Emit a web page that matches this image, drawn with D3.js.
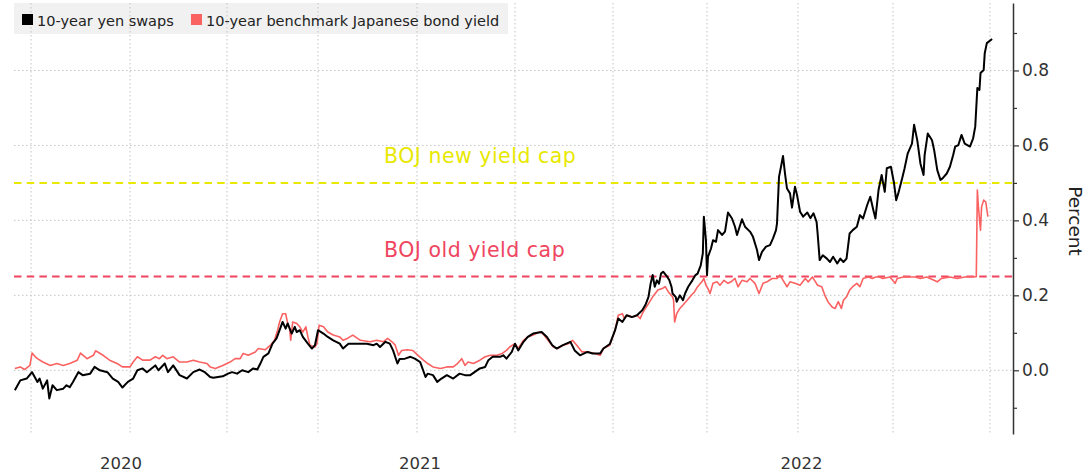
<!DOCTYPE html>
<html>
<head>
<meta charset="utf-8">
<script src="https://cdn.jsdelivr.net/npm/d3@7"></script>
<style>
  body { margin: 0; background: #fff; }
  svg { display: block; font-family: 'DejaVu Sans', Verdana, sans-serif; }
</style>
</head>
<body>
<svg id="chart" width="1086" height="476"></svg>
<script>
const seriesNames = ['10-year yen swaps', '10-year benchmark Japanese bond yield']

const swapDates = [
  '2020-06-16','2020-06-21','2020-06-27','2020-07-02','2020-07-07','2020-07-09','2020-07-12','2020-07-16','2020-07-18','2020-07-21',
  '2020-07-25','2020-07-31','2020-08-03','2020-08-06','2020-08-09','2020-08-14','2020-08-18','2020-08-25','2020-08-29','2020-09-03',
  '2020-09-10','2020-09-15','2020-09-20','2020-09-24','2020-09-29','2020-10-04','2020-10-08','2020-10-13','2020-10-17','2020-10-25',
  '2020-10-28','2020-11-03','2020-11-06','2020-11-11','2020-11-17','2020-11-24','2020-11-30','2020-12-06','2020-12-11','2020-12-16',
  '2020-12-19','2020-12-28','2021-01-02','2021-01-06','2021-01-11','2021-01-16','2021-01-22','2021-01-27','2021-01-31','2021-02-03',
  '2021-02-06','2021-02-11','2021-02-15','2021-02-19','2021-02-25','2021-02-28','2021-03-02','2021-03-06','2021-03-09','2021-03-11',
  '2021-03-14','2021-03-17','2021-03-22','2021-03-26','2021-03-29','2021-04-01','2021-04-06','2021-04-10','2021-04-15','2021-04-21',
  '2021-04-24','2021-04-29','2021-05-07','2021-05-16','2021-05-22','2021-05-25','2021-05-28','2021-06-02','2021-06-06','2021-06-09',
  '2021-06-13','2021-06-15','2021-06-20','2021-06-25','2021-06-29','2021-07-04','2021-07-09','2021-07-11','2021-07-16','2021-07-20',
  '2021-07-24','2021-07-29','2021-08-04','2021-08-10','2021-08-15','2021-08-20','2021-08-24','2021-08-29','2021-09-03','2021-09-06',
  '2021-09-10','2021-09-17','2021-09-20','2021-09-23','2021-09-28','2021-10-01','2021-10-04','2021-10-09','2021-10-13','2021-10-18',
  '2021-10-26','2021-10-31','2021-11-05','2021-11-09','2021-11-15','2021-11-22','2021-11-26','2021-12-01','2021-12-08','2021-12-13',
  '2021-12-20','2021-12-23','2021-12-29','2022-01-03','2022-01-06','2022-01-10','2022-01-14','2022-01-19','2022-01-24','2022-01-29',
  '2022-02-01','2022-02-04','2022-02-06','2022-02-08','2022-02-10','2022-02-12','2022-02-14','2022-02-16','2022-02-18','2022-02-22',
  '2022-02-24','2022-02-26','2022-02-27','2022-03-02','2022-03-03','2022-03-06','2022-03-09','2022-03-11','2022-03-14','2022-03-18',
  '2022-03-21','2022-03-23','2022-03-26','2022-03-28','2022-03-29','2022-03-31','2022-04-01','2022-04-02','2022-04-05','2022-04-07',
  '2022-04-10','2022-04-12','2022-04-16','2022-04-19','2022-04-22','2022-04-26','2022-04-29','2022-05-01','2022-05-06','2022-05-09',
  '2022-05-14','2022-05-17','2022-05-21','2022-05-23','2022-05-26','2022-05-30','2022-06-03','2022-06-06','2022-06-09','2022-06-10',
  '2022-06-12','2022-06-14','2022-06-16','2022-06-18','2022-06-20','2022-06-23','2022-06-25','2022-06-28','2022-06-30','2022-07-03',
  '2022-07-06','2022-07-10','2022-07-13','2022-07-16','2022-07-19','2022-07-20','2022-07-22','2022-07-25','2022-07-29','2022-08-01',
  '2022-08-04','2022-08-08','2022-08-11','2022-08-14','2022-08-17','2022-08-20','2022-08-23','2022-08-27','2022-08-30','2022-09-02',
  '2022-09-06','2022-09-09','2022-09-12','2022-09-14','2022-09-17','2022-09-20','2022-09-23','2022-09-25','2022-09-29','2022-10-02',
  '2022-10-04','2022-10-06','2022-10-10','2022-10-12','2022-10-15','2022-10-19','2022-10-21','2022-10-24','2022-10-27','2022-10-30',
  '2022-10-31','2022-11-03','2022-11-07','2022-11-09','2022-11-12','2022-11-15','2022-11-17','2022-11-21','2022-11-24','2022-11-27',
  '2022-11-29','2022-12-02','2022-12-05','2022-12-08','2022-12-13','2022-12-16','2022-12-18','2022-12-20','2022-12-22','2022-12-23',
  '2022-12-26','2022-12-27','2022-12-29','2023-01-03'
]
const swapValues = [
  -0.053,-0.027,-0.022,-0.005,-0.031,-0.022,-0.049,-0.027,-0.075,-0.040,
  -0.053,-0.049,-0.040,-0.045,-0.031,-0.005,-0.013,-0.009,0.009,0.000,
  -0.005,-0.022,-0.031,-0.046,-0.031,-0.022,0.000,0.005,-0.005,0.013,
  0.000,0.018,-0.005,0.013,-0.013,-0.022,-0.005,0.002,-0.005,-0.018,
  -0.020,-0.016,-0.009,-0.005,-0.009,0.000,-0.005,0.005,0.002,0.018,
  0.036,0.045,0.071,0.085,0.129,0.111,0.125,0.098,0.116,0.102,
  0.107,0.089,0.071,0.058,0.067,0.107,0.098,0.089,0.080,0.071,
  0.058,0.071,0.071,0.071,0.067,0.071,0.062,0.076,0.071,0.053,
  0.018,0.030,0.031,0.036,0.031,0.022,-0.018,-0.009,-0.013,-0.031,
  -0.022,-0.013,-0.022,-0.009,-0.013,-0.013,-0.005,0.005,0.009,0.027,
  0.036,0.036,0.040,0.031,0.049,0.071,0.053,0.076,0.089,0.098,
  0.102,0.089,0.067,0.058,0.067,0.076,0.053,0.040,0.049,0.045,
  0.045,0.058,0.070,0.107,0.138,0.129,0.147,0.142,0.147,0.160,
  0.174,0.196,0.231,0.254,0.223,0.240,0.231,0.258,0.263,0.249,
  0.240,0.223,0.205,0.196,0.183,0.200,0.187,0.205,0.223,0.240,
  0.254,0.258,0.280,0.312,0.410,0.347,0.254,0.303,0.325,0.347,
  0.343,0.374,0.361,0.370,0.421,0.405,0.383,0.361,0.403,0.383,
  0.370,0.356,0.321,0.294,0.316,0.330,0.334,0.352,0.374,0.392,
  0.516,0.543,0.572,0.525,0.485,0.472,0.434,0.490,0.468,0.423,
  0.410,0.421,0.406,0.419,0.396,0.365,0.294,0.307,0.298,0.289,
  0.303,0.285,0.298,0.289,0.298,0.365,0.374,0.383,0.414,0.405,
  0.441,0.463,0.427,0.405,0.481,0.521,0.476,0.539,0.543,0.499,
  0.454,0.472,0.516,0.539,0.579,0.605,0.655,0.614,0.552,0.521,
  0.574,0.632,0.614,0.588,0.534,0.508,0.512,0.525,0.543,0.574,
  0.597,0.601,0.628,0.605,0.597,0.619,0.650,0.753,0.748,0.793,
  0.801,0.846,0.873,0.884
]

const jgbDates = [
  '2020-06-16','2020-06-21','2020-06-25','2020-06-30','2020-07-02','2020-07-05','2020-07-07','2020-07-12','2020-07-19','2020-07-25',
  '2020-07-31','2020-08-06','2020-08-13','2020-08-16','2020-08-22','2020-08-28','2020-08-30','2020-09-06','2020-09-12','2020-09-19',
  '2020-09-24','2020-10-01','2020-10-04','2020-10-08','2020-10-13','2020-10-20','2020-10-25','2020-10-29','2020-11-01','2020-11-05',
  '2020-11-11','2020-11-17','2020-11-24','2020-11-30','2020-12-06','2020-12-13','2020-12-16','2020-12-21','2020-12-28','2021-01-04',
  '2021-01-09','2021-01-14','2021-01-17','2021-01-22','2021-01-29','2021-02-01','2021-02-08','2021-02-13','2021-02-17','2021-02-20',
  '2021-02-22','2021-02-25','2021-02-28','2021-03-02','2021-03-04','2021-03-05','2021-03-07','2021-03-11','2021-03-14','2021-03-17',
  '2021-03-20','2021-03-22','2021-03-24','2021-03-29','2021-03-31','2021-04-02','2021-04-06','2021-04-10','2021-04-15','2021-04-21',
  '2021-04-24','2021-04-28','2021-05-03','2021-05-10','2021-05-19','2021-05-25','2021-05-31','2021-06-04','2021-06-08','2021-06-11',
  '2021-06-14','2021-06-17','2021-06-22','2021-06-27','2021-07-02','2021-07-07','2021-07-11','2021-07-16','2021-07-23','2021-07-29',
  '2021-08-04','2021-08-08','2021-08-12','2021-08-15','2021-08-18','2021-08-23','2021-08-29','2021-09-03','2021-09-08','2021-09-14',
  '2021-09-19','2021-09-23','2021-09-26','2021-10-01','2021-10-04','2021-10-09','2021-10-13','2021-10-18','2021-10-24','2021-10-27',
  '2021-11-01','2021-11-06','2021-11-10','2021-11-15','2021-11-20','2021-11-24','2021-11-28','2021-12-03','2021-12-09','2021-12-15',
  '2021-12-20','2021-12-23','2021-12-29','2022-01-03','2022-01-06','2022-01-10','2022-01-12','2022-01-15','2022-01-20','2022-01-24',
  '2022-01-27','2022-01-29','2022-02-01','2022-02-04','2022-02-08','2022-02-13','2022-02-17','2022-02-20','2022-02-23','2022-02-27',
  '2022-02-28','2022-03-01','2022-03-03','2022-03-06','2022-03-09','2022-03-13','2022-03-17','2022-03-20','2022-03-23','2022-03-27',
  '2022-03-29','2022-03-31','2022-04-02','2022-04-04','2022-04-07','2022-04-11','2022-04-14','2022-04-18','2022-04-22','2022-04-25',
  '2022-04-29','2022-05-02','2022-05-06','2022-05-11','2022-05-14','2022-05-19','2022-05-23','2022-05-27','2022-05-31','2022-06-05',
  '2022-06-10','2022-06-13','2022-06-17','2022-06-20','2022-06-23','2022-06-28','2022-07-03','2022-07-08','2022-07-11','2022-07-15',
  '2022-07-17','2022-07-20','2022-07-24','2022-07-27','2022-07-30','2022-08-03','2022-08-06','2022-08-09','2022-08-12','2022-08-14',
  '2022-08-17','2022-08-20','2022-08-23','2022-08-27','2022-08-30','2022-09-02','2022-09-07','2022-09-11','2022-09-14','2022-09-18',
  '2022-09-21','2022-09-28','2022-10-03','2022-10-05','2022-10-11','2022-10-22','2022-10-27','2022-11-02','2022-11-12','2022-11-16',
  '2022-11-24','2022-12-01','2022-12-08','2022-12-19','2022-12-20','2022-12-21','2022-12-23','2022-12-24','2022-12-26','2022-12-28',
  '2022-12-30'
]
const jgbValues = [
  0.005,0.009,0.002,0.013,0.046,0.036,0.031,0.022,0.013,0.018,
  0.013,0.018,0.027,0.046,0.031,0.040,0.052,0.040,0.027,0.018,
  0.009,0.009,0.022,0.036,0.027,0.027,0.036,0.031,0.040,0.031,
  0.036,0.022,0.022,0.027,0.022,0.018,0.009,0.005,0.013,0.022,
  0.031,0.031,0.045,0.040,0.049,0.058,0.055,0.067,0.080,0.107,
  0.129,0.151,0.151,0.125,0.111,0.080,0.129,0.125,0.116,0.102,
  0.116,0.089,0.067,0.062,0.071,0.120,0.116,0.102,0.094,0.089,
  0.080,0.085,0.094,0.080,0.076,0.080,0.076,0.085,0.076,0.067,
  0.040,0.053,0.055,0.053,0.040,0.027,0.018,0.009,0.005,0.009,
  0.009,0.018,0.031,0.013,0.022,0.018,0.027,0.036,0.040,0.040,
  0.045,0.053,0.062,0.071,0.058,0.080,0.089,0.094,0.102,0.098,
  0.080,0.062,0.058,0.067,0.071,0.080,0.067,0.049,0.049,0.045,
  0.040,0.058,0.067,0.107,0.147,0.151,0.138,0.147,0.142,0.147,
  0.138,0.151,0.165,0.178,0.196,0.214,0.218,0.223,0.209,0.196,
  0.187,0.129,0.151,0.165,0.174,0.187,0.200,0.209,0.223,0.236,
  0.245,0.227,0.218,0.205,0.232,0.236,0.227,0.240,0.232,0.236,
  0.245,0.223,0.240,0.236,0.245,0.232,0.205,0.232,0.236,0.245,
  0.245,0.254,0.236,0.223,0.236,0.232,0.227,0.245,0.236,0.249,
  0.240,0.227,0.223,0.200,0.183,0.169,0.165,0.183,0.165,0.187,
  0.196,0.214,0.223,0.232,0.223,0.245,0.249,0.245,0.249,0.249,
  0.245,0.249,0.232,0.245,0.249,0.249,0.245,0.249,0.236,0.245,
  0.249,0.245,0.249,0.250,0.481,0.436,0.374,0.436,0.454,0.449,
  0.410
]

const capValues = [0.5, 0.25]
const capLabels = ['BOJ new yield cap', 'BOJ old yield cap']
const yTicks = [0, 0.2, 0.4, 0.6, 0.8]
const yMinorTicks = [-0.1, 0.1, 0.3, 0.5, 0.7, 0.9]
const gridDates = ['2020-07-01','2020-10-01','2021-01-01','2021-04-01','2021-07-01','2021-10-01',
  '2022-01-01','2022-04-01','2022-07-01','2022-10-01','2023-01-01']
const yearLabels = ['2020', '2021', '2022']

const colors = { swap: '#000', jgb: '#fa6262', newCap: '#e8e800', oldCap: '#ef4560' }

const parse = d3.timeParse('%Y-%m-%d')
const plot = { left: 14, right: 1013, top: 3, bottom: 434 }

// the source axis runs on trading days, so the quarters aren't evenly spaced
const x = d3
  .scaleTime()
  .domain(gridDates.map(parse))
  .range([31, 130, 227, 318, 417, 515, 613, 707, 798, 893, 990])
const y = d3.scaleLinear().domain([-0.17, 0.98]).range([plot.bottom, plot.top])

const swaps = d3.zip(swapDates, swapValues).map(([d, v]) => ({ date: parse(d), value: v }))
const jgbs = d3.zip(jgbDates, jgbValues).map(([d, v]) => ({ date: parse(d), value: v }))

const svg = d3.select('#chart')

// legend strip sits under the grid, like the original
svg
  .append('rect')
  .attr('x', 14)
  .attr('y', 3)
  .attr('width', 494)
  .attr('height', 31)
  .attr('fill', '#f1f1f1')

const grid = svg.append('g').attr('stroke', '#c4c4c4').attr('stroke-dasharray', '1.5,2.5')
grid
  .selectAll('line.h')
  .data(yTicks)
  .join('line')
  .attr('class', 'h')
  .attr('x1', plot.left)
  .attr('x2', plot.right)
  .attr('y1', d => y(d))
  .attr('y2', d => y(d))
grid
  .selectAll('line.v')
  .data(gridDates.map(parse))
  .join('line')
  .attr('class', 'v')
  .attr('x1', d => x(d))
  .attr('x2', d => x(d))
  .attr('y1', plot.top)
  .attr('y2', plot.bottom)

// legend
const legend = svg.append('g').style('font-size', '14.5px').attr('fill', '#222')
const legendX = [22, 191]
const legendColors = [colors.swap, colors.jgb]
seriesNames.forEach((name, i) => {
  legend
    .append('rect')
    .attr('x', legendX[i])
    .attr('y', 14)
    .attr('width', 11)
    .attr('height', 11)
    .attr('fill', legendColors[i])
  legend
    .append('text')
    .attr('x', legendX[i] + 15)
    .attr('y', 25.5)
    .text(name)
})

// yield cap lines and labels
const capColors = [colors.newCap, colors.oldCap]
capValues.forEach((v, i) => {
  svg
    .append('line')
    .attr('x1', plot.left)
    .attr('x2', plot.right)
    .attr('y1', y(v))
    .attr('y2', y(v))
    .attr('stroke', capColors[i])
    .attr('stroke-width', 2)
    .attr('stroke-dasharray', '7.5,5.2')
  svg
    .append('text')
    .attr('x', 384)
    .attr('y', y(v) - 20)
    .attr('fill', capColors[i])
    .style('font-size', '20.5px')
    .style('letter-spacing', '0.5px')
    .text(capLabels[i])
})

const line = d3
  .line()
  .x(d => x(d.date))
  .y(d => y(d.value))

svg
  .append('path')
  .datum(jgbs)
  .attr('fill', 'none')
  .attr('stroke', colors.jgb)
  .attr('stroke-width', 1.6)
  .attr('stroke-linejoin', 'round')
  .attr('d', line)

svg
  .append('path')
  .datum(swaps)
  .attr('fill', 'none')
  .attr('stroke', colors.swap)
  .attr('stroke-width', 2)
  .attr('stroke-linejoin', 'round')
  .attr('d', line)

// right axis
const yAxis = svg
  .append('g')
  .attr('transform', `translate(${plot.right},0)`)
  .call(
    d3
      .axisRight(y)
      .tickValues(yTicks)
      .tickSize(6)
      .tickSizeOuter(0)
      .tickPadding(3)
      .tickFormat(d3.format('.1f'))
  )
yAxis.select('.domain').attr('stroke', '#333').attr('stroke-width', 1.5)
yAxis.selectAll('.tick line').attr('stroke', '#333').attr('stroke-width', 1.2)
yAxis
  .selectAll('.tick text')
  .attr('fill', '#333')
  .style('font-size', '17px')
  .style('font-family', "'DejaVu Sans', Verdana, sans-serif")

const minor = svg
  .append('g')
  .attr('transform', `translate(${plot.right},0)`)
  .call(d3.axisRight(y).tickValues(yMinorTicks).tickSize(4).tickFormat(''))
minor.select('.domain').remove()
minor.selectAll('.tick line').attr('stroke', '#333').attr('stroke-width', 1.2)

svg
  .append('text')
  .attr('transform', `translate(1069,221) rotate(90)`)
  .attr('text-anchor', 'middle')
  .attr('fill', '#222')
  .style('font-size', '18.5px')
  .text('Percent')

// year labels centred on the part of each year that has data
const dataStart = swaps[0].date
const dataEnd = swaps[swaps.length - 1].date
svg
  .append('g')
  .attr('text-anchor', 'middle')
  .attr('fill', '#333')
  .style('font-size', '16.5px')
  .selectAll('text')
  .data(yearLabels)
  .join('text')
  .attr('x', d => {
    const a = d3.max([parse(`${d}-01-01`), dataStart])
    const b = d3.min([parse(`${+d + 1}-01-01`), dataEnd])
    return (x(a) + x(b)) / 2
  })
  .attr('y', 469)
  .text(d => d)
</script>
</body>
</html>
